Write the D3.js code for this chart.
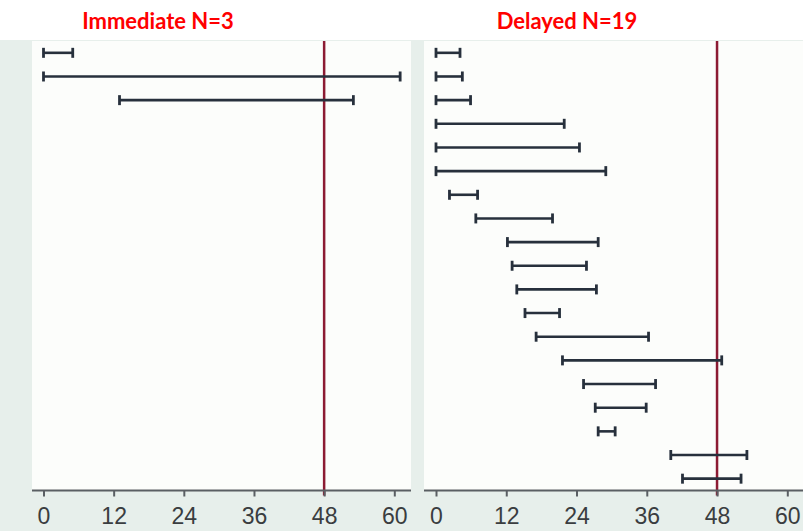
<!DOCTYPE html>
<html>
<head>
<meta charset="utf-8">
<script src="https://cdn.jsdelivr.net/npm/d3@7"></script>
<style>
  body { margin: 0; background: #fff; }
</style>
</head>
<body>
<div id="chart"></div>
<script>
// immediate group: start / end of each interval (months)
const immStart = [0, 0, 13];
const immEnd   = [5, 61, 53];

// delayed group
const delStart = [0, 0, 0, 0, 0, 0, 2.3, 6.8, 12.2, 13, 13.8, 15.2, 17.1, 21.6, 25.2, 27.2, 27.7, 40.1, 42.1];
const delEnd   = [4.1, 4.5, 5.9, 21.9, 24.5, 29, 7.1, 19.9, 27.7, 25.7, 27.4, 21.1, 36.3, 48.8, 37.5, 35.9, 30.6, 53.1, 52.1];

const xTicks = [0, 12, 24, 36, 48, 60];
const refLine = 48;
const titles = ['Immediate N=3', 'Delayed N=19'];

const width = 803, height = 531;
const outerBg = '#e7efeb';
const panelBg = '#fcfdfb';
const barColor = '#27303c';
const red = '#8c1b33';

const svg = d3.select('#chart').append('svg')
  .attr('width', width)
  .attr('height', height);

svg.append('rect').attr('width', width).attr('height', height).attr('fill', outerBg);
svg.append('rect').attr('width', width).attr('height', 40).attr('fill', '#fff');

// panel geometry
const panels = [
  {x0: 32, x1: 411, zero: 43.5, sixty: 394.3, starts: immStart, ends: immEnd},
  {x0: 424, x1: 803, zero: 436, sixty: 787.3, starts: delStart, ends: delEnd}
];
const plotTop = 41, plotBottom = 490.5;

const y = d3.scaleBand()
  .domain(d3.range(19))
  .range([plotTop, plotBottom]);

panels.forEach((p, i) => {
  const g = svg.append('g');
  const x = d3.scaleLinear().domain([0, 60]).range([p.zero, p.sixty]);

  g.append('rect')
    .attr('x', p.x0).attr('y', plotTop)
    .attr('width', p.x1 - p.x0).attr('height', plotBottom - plotTop)
    .attr('fill', panelBg);

  // reference line at 48
  g.append('line')
    .attr('x1', x(refLine)).attr('x2', x(refLine))
    .attr('y1', plotTop).attr('y2', plotBottom + 5)
    .attr('stroke', red).attr('stroke-width', 2.5);

  const rows = p.starts.map((s, k) => ({s: s, e: p.ends[k], k: k}));

  const bars = g.selectAll('.bar').data(rows).join('g').attr('class', 'bar');
  bars.append('line')
    .attr('x1', d => x(d.s)).attr('x2', d => x(d.e))
    .attr('y1', d => y(d.k) + y.bandwidth() / 2)
    .attr('y2', d => y(d.k) + y.bandwidth() / 2)
    .attr('stroke', barColor).attr('stroke-width', 2.6);
  ['s', 'e'].forEach(key => {
    bars.append('line')
      .attr('x1', d => x(d[key])).attr('x2', d => x(d[key]))
      .attr('y1', d => y(d.k) + y.bandwidth() / 2 - 5)
      .attr('y2', d => y(d.k) + y.bandwidth() / 2 + 5)
      .attr('stroke', barColor).attr('stroke-width', 2.8);
  });

  // x axis
  const axis = d3.axisBottom(x).tickValues(xTicks).tickSize(6).tickPadding(11);
  const ax = g.append('g')
    .attr('transform', `translate(0,${plotBottom})`)
    .call(axis);
  ax.select('.domain').remove();
  ax.append('line')
    .attr('x1', p.x0).attr('x2', p.x1)
    .attr('stroke', '#5a5f63').attr('stroke-width', 2);
  ax.selectAll('.tick line').attr('stroke', '#5a5f63').attr('stroke-width', 2);
  ax.selectAll('.tick text')
    .attr('fill', '#3a3d40')
    .attr('font-family', 'Liberation Sans, Arial, sans-serif')
    .attr('font-size', 23);

  svg.append('text')
    .attr('x', i == 0 ? 158 : 567)
    .attr('y', 29)
    .attr('text-anchor', 'middle')
    .attr('font-family', 'Lato, sans-serif')
    .attr('font-weight', 'bold')
    .attr('font-size', 22)
    .attr('fill', '#ff0000')
    .text(titles[i]);
});
</script>
</body>
</html>
